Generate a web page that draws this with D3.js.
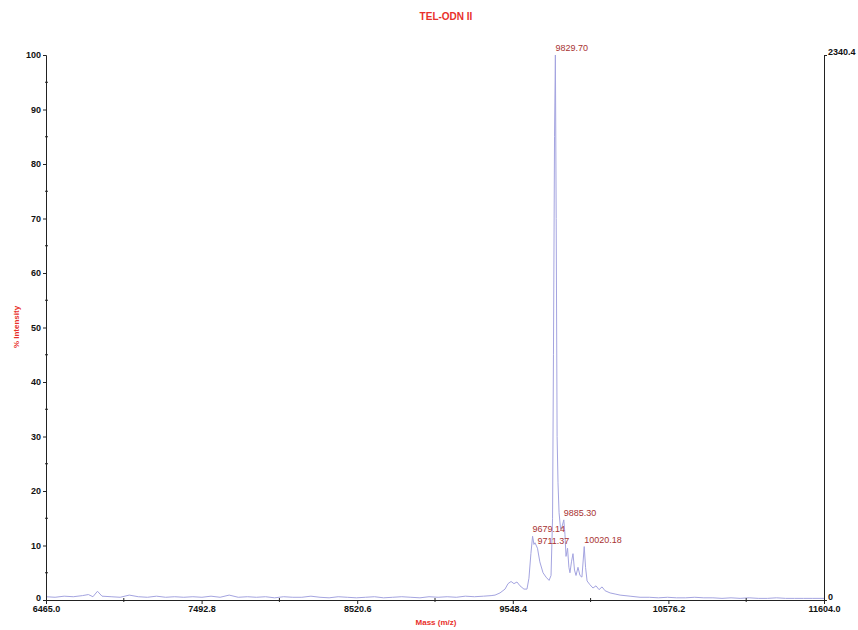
<!DOCTYPE html>
<html>
<head>
<meta charset="utf-8">
<script src="https://cdn.jsdelivr.net/npm/d3@7"></script>
<style>
  html, body { margin: 0; padding: 0; background: #fff; }
  svg { display: block; font-family: "Liberation Sans", Arial, sans-serif; }
</style>
</head>
<body>
<svg id="chart" width="858" height="630"></svg>
<script>
// Spectrum trace: mass (m/z) and percent intensity
const massValues = [
  6465, 6525, 6585, 6645, 6705, 6745, 6775, 6805, 6835, 6895,
  6955, 7015, 7075, 7135, 7195, 7255, 7315, 7375, 7435, 7495,
  7555, 7615, 7675, 7735, 7795, 7855, 7915, 7975, 8035, 8095,
  8155, 8215, 8275, 8335, 8395, 8455, 8515, 8575, 8635, 8695,
  8755, 8815, 8875, 8935, 8995, 9055, 9115, 9175, 9235, 9295,
  9355, 9405, 9431, 9464, 9497, 9517, 9537, 9556, 9576, 9596,
  9622, 9642, 9655, 9668, 9679.14, 9688, 9695, 9711.37, 9727, 9748,
  9768, 9788, 9801, 9811, 9817, 9824, 9829.70, 9835, 9841, 9847,
  9854, 9864, 9874, 9885.30, 9893, 9900, 9910, 9919, 9926, 9936,
  9946, 9956, 9966, 9979, 9992, 10005, 10020.18, 10029, 10039, 10058,
  10078, 10098, 10118, 10138, 10158, 10191, 10224, 10257, 10323, 10389,
  10450, 10510, 10570, 10630, 10690, 10750, 10810, 10870, 10930, 10990,
  11050, 11110, 11170, 11230, 11290, 11350, 11410, 11470, 11530, 11604
];
const intensityValues = [
  0.6, 0.5, 0.7, 0.6, 0.8, 1.0, 0.6, 1.6, 0.7, 0.6,
  0.5, 0.9, 0.6, 0.5, 0.7, 0.5, 0.6, 0.5, 0.6, 0.5,
  0.7, 0.5, 0.9, 0.5, 0.6, 0.5, 0.6, 0.4, 0.6, 0.5,
  0.5, 0.7, 0.5, 0.4, 0.6, 0.5, 0.4, 0.5, 0.6, 0.4,
  0.5, 0.6, 0.5, 0.4, 0.6, 0.5, 0.6, 0.5, 0.7, 0.6,
  0.7, 0.8, 0.9, 1.3, 2.0, 3.0, 3.4, 3.0, 3.3, 2.6,
  2.0, 2.0, 4.0, 8.5, 11.7, 10.2, 10.5, 9.5, 7.0, 5.0,
  4.2, 3.6, 4.5, 15, 45, 85, 100, 70, 30, 21.5,
  16, 13, 13.5, 14.7, 12, 8, 9.5, 6, 5, 7,
  8.5, 5.5, 4.5, 6, 4.5, 4.2, 9.8, 6, 3.5, 2.8,
  2.2, 2.6, 1.9, 2.4, 1.7, 1.3, 1.1, 0.9, 0.7, 0.5,
  0.5, 0.4, 0.5, 0.4, 0.4, 0.5, 0.4, 0.4, 0.3, 0.4,
  0.3, 0.4, 0.3, 0.3, 0.4, 0.3, 0.3, 0.3, 0.3, 0.3
];

// Annotated peaks
const peakLabels = ["9829.70", "9885.30", "9679.14", "9711.37", "10020.18"];
const peakMasses = [9829.70, 9885.30, 9679.14, 9711.37, 10020.18];
const peakIntensities = [100, 14.7, 11.7, 9.5, 9.8];

// Axis ticks
const xMajorTicks = [6465.0, 7492.8, 8520.6, 9548.4, 10576.2, 11604.0];
const xMinorTicks = [6978.9, 8006.7, 9034.5, 10062.3, 11090.1];
const yMajorTicks = [0, 10, 20, 30, 40, 50, 60, 70, 80, 90, 100];
const yMinorTicks = [5, 15, 25, 35, 45, 55, 65, 75, 85, 95];
const rightAxisMax = 2340.4;

const svg = d3.select("#chart");
const plot = { left: 46, right: 824, top: 55, bottom: 600 };

const x = d3.scaleLinear().domain([6465.0, 11604.0]).range([plot.left, plot.right]);
const y = d3.scaleLinear().domain([0, 100]).range([plot.bottom, plot.top]);
const yRight = d3.scaleLinear().domain([0, rightAxisMax]).range([plot.bottom, plot.top]);

const axisColor = "#222";
const tickFont = "Liberation Sans, Arial, sans-serif";

// Spectrum line
const pts = massValues.map((m, i) => [m, intensityValues[i]]);
svg.append("path")
  .datum(pts)
  .attr("fill", "none")
  .attr("stroke", "#a4a4e0")
  .attr("stroke-width", 1)
  .attr("stroke-linejoin", "round")
  .attr("d", d3.line().x(d => x(d[0])).y(d => y(d[1])));

// Bottom axis
const xAxis = svg.append("g").attr("transform", `translate(0,${plot.bottom})`)
  .call(d3.axisBottom(x).tickValues(xMajorTicks).tickSize(4).tickFormat(d3.format(".1f")));
xAxis.select(".domain").attr("stroke", axisColor);
xAxis.selectAll(".tick line").attr("stroke", axisColor);
xAxis.selectAll(".tick text")
  .attr("y", 6).attr("dy", "0.71em")
  .attr("font-size", 9).attr("font-weight", "bold").attr("fill", "#111")
  .attr("font-family", tickFont);
svg.append("g").selectAll("line").data(xMinorTicks).join("line")
  .attr("x1", d => x(d)).attr("x2", d => x(d))
  .attr("y1", plot.bottom - 2).attr("y2", plot.bottom + 2)
  .attr("stroke", axisColor);

// Left axis
const yAxis = svg.append("g").attr("transform", `translate(${plot.left},0)`)
  .call(d3.axisLeft(y).tickValues(yMajorTicks).tickSize(3).tickPadding(2));
yAxis.select(".domain").attr("stroke", axisColor);
yAxis.selectAll(".tick line").attr("stroke", axisColor);
yAxis.selectAll(".tick text")
  .attr("font-size", 9).attr("font-weight", "bold").attr("fill", "#111")
  .attr("font-family", tickFont);
// the zero label sits just above the axis corner
yAxis.selectAll(".tick text").filter(d => d === 0).attr("dy", "0.1em");
svg.append("g").selectAll("line").data(yMinorTicks).join("line")
  .attr("x1", plot.left - 1).attr("x2", plot.left + 2)
  .attr("y1", d => y(d)).attr("y2", d => y(d))
  .attr("stroke", axisColor);

// Right axis (absolute counts)
const rAxis = svg.append("g").attr("transform", `translate(${plot.right},0)`)
  .call(d3.axisRight(yRight).tickValues([0, rightAxisMax]).tickSize(3).tickPadding(1)
    .tickFormat(d => d === 0 ? "0" : d3.format(".1f")(d)));
rAxis.select(".domain").attr("stroke", axisColor);
rAxis.selectAll(".tick line").attr("stroke", axisColor);
rAxis.selectAll(".tick text")
  .attr("font-size", 9).attr("font-weight", "bold").attr("fill", "#111")
  .attr("dy", "-0.1em")
  .attr("font-family", tickFont);

// Peak annotations
svg.append("g").selectAll("text").data(peakLabels).join("text")
  .attr("x", (d, i) => x(peakMasses[i]))
  .attr("y", (d, i) => y(peakIntensities[i]) - 4)
  .attr("font-size", 9)
  .attr("fill", "#a83232")
  .text(d => d);

// Title and axis titles
svg.append("text")
  .attr("x", 446).attr("y", 20)
  .attr("text-anchor", "middle")
  .attr("font-size", 10).attr("font-weight", "bold")
  .attr("fill", "#e8302a")
  .text("TEL-ODN II");

svg.append("text")
  .attr("x", 436).attr("y", 625)
  .attr("text-anchor", "middle")
  .attr("font-size", 8).attr("font-weight", "bold")
  .attr("fill", "#e8302a")
  .text("Mass (m/z)");

svg.append("text")
  .attr("transform", "translate(19,327) rotate(-90)")
  .attr("text-anchor", "middle")
  .attr("font-size", 8).attr("font-weight", "bold")
  .attr("fill", "#e8302a")
  .text("% Intensity");
</script>
</body>
</html>
